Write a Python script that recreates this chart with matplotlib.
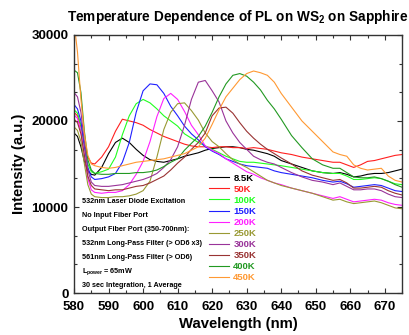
import matplotlib
matplotlib.use('Agg')
import matplotlib.pyplot as plt
from matplotlib.ticker import MultipleLocator, AutoMinorLocator
import numpy as np

plt.rcParams['font.family'] = ['Liberation Sans', 'DejaVu Sans']
plt.rcParams['font.weight'] = 'bold'
plt.rcParams['mathtext.fontset'] = 'custom'
plt.rcParams['mathtext.rm'] = 'Liberation Sans:bold'
plt.rcParams['mathtext.bf'] = 'Liberation Sans:bold'
plt.rcParams['mathtext.default'] = 'bf'

# wavelength grid (nm)
wl = [580, 581, 582, 583, 584, 585, 586, 588, 590, 592, 594, 596, 598, 600,
      602, 604, 606, 608, 610, 612, 614, 616, 618, 620, 622, 624, 626, 628,
      630, 632, 634, 636, 638, 640, 643, 646, 649, 652, 655, 657, 659, 661,
      663, 665, 667, 669, 671, 673, 675]

# intensities, in thousands of counts
k8_5 = [18.6, 18.2, 17.0, 15.3, 14.2, 13.8, 13.7, 14.6, 16.2, 17.5, 18.0, 17.5,
        16.7, 16.0, 15.5, 15.3, 15.2, 15.4, 15.6, 15.9, 16.1, 16.3, 16.6, 16.8,
        16.9, 17.0, 17.0, 16.9, 16.7, 16.6, 16.4, 16.2, 15.9, 15.4, 15.0, 14.6,
        14.2, 14.0, 13.9, 14.0, 13.8, 13.5, 13.6, 13.8, 13.9, 13.9, 14.0, 14.2, 14.4]
k50 = [21.0, 20.6, 19.3, 17.3, 15.8, 15.1, 15.0, 15.8, 17.0, 18.8, 20.2, 20.0,
       19.8, 19.5, 19.0, 18.6, 18.2, 17.9, 17.6, 17.3, 17.1, 17.0, 17.0, 16.9,
       17.0, 17.0, 16.9, 16.9, 16.8, 16.9, 16.8, 16.7, 16.5, 16.3, 16.1, 15.8,
       15.6, 15.4, 15.2, 15.2, 14.9, 14.6, 14.9, 15.3, 15.4, 15.6, 15.8, 16.0, 16.1]
k100 = [21.3, 20.9, 19.5, 17.0, 15.0, 14.1, 13.9, 14.1, 14.4, 15.8, 18.4, 20.6,
        22.0, 22.5, 22.1, 21.4, 20.6, 20.0, 19.4, 18.5, 18.0, 17.5, 17.1, 16.7,
        16.3, 15.9, 15.6, 15.3, 15.2, 15.2, 15.1, 15.0, 14.9, 14.8, 14.6, 14.4,
        14.2, 14.0, 13.9, 13.9, 13.6, 13.2, 13.2, 13.3, 13.4, 13.3, 13.0, 12.7, 12.6]
k150 = [21.9, 21.4, 20.0, 17.0, 14.6, 13.5, 13.2, 13.3, 13.5, 13.9, 15.2, 17.5,
        21.0, 23.5, 24.3, 24.2, 23.2, 21.7, 20.6, 19.4, 18.5, 17.8, 17.0, 16.5,
        16.1, 15.6, 15.3, 15.0, 14.8, 14.7, 14.6, 14.5, 14.2, 14.0, 13.8, 13.6,
        13.4, 13.1, 12.9, 13.0, 12.7, 12.3, 12.4, 12.5, 12.6, 12.5, 12.2, 11.9, 11.8]
k200 = [20.7, 20.3, 18.8, 16.0, 13.3, 12.0, 11.7, 11.6, 11.7, 11.7, 11.9, 12.6,
        13.8, 15.3, 17.6, 20.5, 22.6, 23.2, 22.5, 21.1, 19.5, 18.4, 17.1, 16.6,
        16.2, 15.6, 15.1, 14.6, 14.1, 13.8, 13.4, 13.1, 12.8, 12.6, 12.2, 11.9,
        11.6, 11.3, 11.0, 11.2, 10.9, 10.6, 10.7, 10.8, 10.9, 10.8, 10.5, 10.3, 10.2]
k250 = [19.3, 18.9, 17.6, 15.0, 12.6, 11.5, 11.2, 11.1, 11.1, 11.2, 11.2, 11.3,
        11.5, 11.9, 13.0, 15.8, 19.0, 21.0, 22.0, 22.1, 21.2, 20.1, 18.6, 17.6,
        17.0, 16.2, 15.5, 15.0, 14.6, 14.1, 13.6, 13.1, 12.8, 12.5, 12.2, 11.9,
        11.6, 11.2, 10.8, 10.9, 10.6, 10.4, 10.5, 10.6, 10.7, 10.5, 10.2, 9.9, 9.8]
k300 = [23.3, 22.8, 21.0, 17.5, 14.3, 12.9, 12.5, 12.4, 12.4, 12.5, 12.6, 12.8,
        13.0, 13.2, 13.5, 13.9, 14.6, 15.5, 17.0, 19.5, 22.5, 24.5, 24.7, 23.5,
        22.2, 20.0, 18.6, 17.5, 16.7, 15.9, 15.5, 15.2, 15.0, 14.6, 14.0, 13.5,
        13.1, 12.9, 12.6, 12.8, 12.4, 12.0, 12.0, 12.1, 12.1, 11.9, 11.5, 11.2, 11.1]
k350 = [20.2, 19.8, 18.5, 16.0, 13.6, 12.5, 12.1, 12.0, 11.9, 12.0, 12.0, 12.2,
        12.4, 12.5, 12.8, 13.2, 13.6, 14.3, 15.1, 15.8, 16.7, 17.5, 18.6, 20.6,
        21.5, 21.6, 20.9, 19.8, 18.8, 18.0, 17.3, 16.7, 16.2, 15.7, 15.0, 14.2,
        13.7, 13.4, 13.1, 13.2, 12.8, 12.2, 12.2, 12.3, 12.4, 12.3, 11.9, 11.6, 11.4]
k400 = [25.9, 25.6, 23.3, 18.8, 15.5, 14.3, 13.9, 13.8, 13.8, 13.9, 13.9, 13.9,
        14.0, 14.0, 14.1, 14.3, 14.7, 15.2, 15.6, 16.6, 17.4, 18.2, 19.4, 21.0,
        22.8, 24.3, 25.3, 25.5, 25.2, 24.5, 23.6, 22.4, 21.4, 20.2, 18.3, 16.9,
        15.6, 14.9, 14.5, 14.5, 14.0, 13.5, 13.4, 13.4, 13.5, 13.3, 13.0, 12.6, 12.3]
k450 = [31.5, 28.0, 22.5, 18.5, 16.0, 15.0, 14.8, 14.6, 14.5, 14.6, 14.8, 15.0,
        15.2, 15.3, 15.4, 15.5, 15.6, 15.8, 16.0, 16.2, 16.6, 17.0, 18.0, 19.6,
        21.3, 22.8, 23.8, 24.8, 25.5, 25.8, 25.6, 25.3, 24.5, 23.2, 21.6, 20.0,
        18.8, 17.6, 16.4, 16.1, 15.9, 14.9, 14.5, 14.3, 14.4, 14.5, 13.6, 13.1, 12.9]

series = [k8_5, k50, k100, k150, k200, k250, k300, k350, k400, k450]
labels = ['8.5K', '50K', '100K', '150K', '200K', '250K', '300K', '350K', '400K', '450K']
colors = ['#000000', '#ff2020', '#20ff20', '#2020ff', '#ff20ff',
          '#999933', '#993399', '#993333', '#229922', '#ff9933']

notes = ['532nm Laser Diode Excitation',
         'No Input Fiber Port',
         'Output Fiber Port (350-700nm):',
         '532nm Long-Pass Filter (> OD6 x3)',
         '561nm Long-Pass Filter (> OD6)',
         r'L$_{power}$ = 65mW',
         '30 sec Integration, 1 Average']

fig = plt.figure(figsize=(4.09, 3.35), dpi=100)
ax = fig.add_axes([0.181, 0.125, 0.802, 0.771])

for s, lab, c in zip(series, labels, colors):
    ax.plot(wl, np.array(s) * 1000, color=c, linewidth=0.8, label=lab)

ax.set_xlim(580, 675)
ax.set_ylim(0, 30000)
ax.xaxis.set_major_locator(MultipleLocator(10))
ax.xaxis.set_minor_locator(AutoMinorLocator(2))
ax.yaxis.set_major_locator(MultipleLocator(10000))
ax.yaxis.set_minor_locator(AutoMinorLocator(3))
ax.tick_params(which='both', direction='in', top=True, right=True,
               labelsize=9.5, width=0.8, color='#333333')
ax.tick_params(axis='x', pad=5.5)
ax.tick_params(axis='y', pad=4)
ax.tick_params(which='major', length=3.5)
ax.tick_params(which='minor', length=2)
for sp in ax.spines.values():
    sp.set_linewidth(1.0)
    sp.set_color('#333333')

ax.set_title('Temperature Dependence of PL on WS$_2$ on Sapphire',
             fontsize=9.8, fontweight='bold', pad=10)
ax.set_xlabel('Wavelength (nm)', fontsize=10.7, fontweight='bold', labelpad=3)
ax.set_ylabel('Intensity (a.u.)', fontsize=10.7, fontweight='bold', labelpad=4)

leg = ax.legend(loc='upper left', bbox_to_anchor=(0.405, 0.47), frameon=False,
                fontsize=6.8, handlelength=2.1, handletextpad=0.5,
                labelspacing=0.22, borderaxespad=0, borderpad=0.2,
                labelcolor='linecolor')

for i, t in enumerate(notes):
    ax.text(0.024, 0.353 - i * 0.0537, t, transform=ax.transAxes,
            fontsize=5.2, fontweight='bold', va='center', ha='left')

plt.savefig('out.png', dpi=100)
